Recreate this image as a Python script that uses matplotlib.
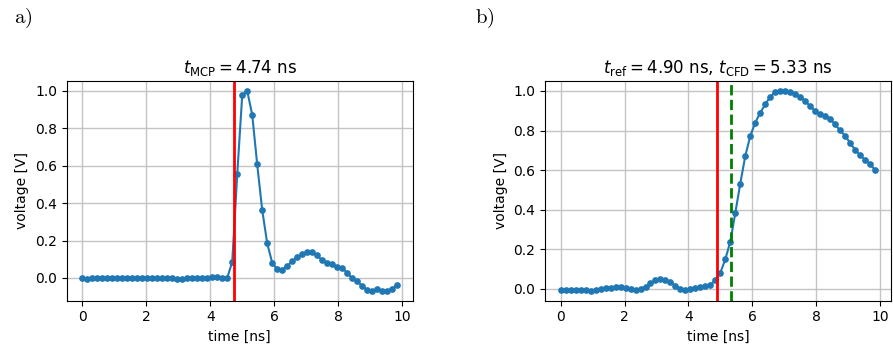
import numpy as np
import matplotlib.pyplot as plt

# sampling: 6.4 GS/s -> 0.15625 ns per sample, 64 samples
dt = 0.15625
n_samples = 64

v_mcp = [
    0.000, -0.005, 0.000, 0.000, 0.002, 0.000, 0.001, 0.000, 0.002, 0.000,
    0.000, -0.002, 0.000, 0.002, 0.000, -0.002, 0.000, 0.000, -0.002, -0.004,
    -0.005, 0.000, 0.000, 0.002, 0.002, 0.000, 0.003, 0.003, 0.002, 0.001,
    0.086, 0.554, 0.977, 1.000, 0.873, 0.607, 0.364, 0.186, 0.082, 0.046,
    0.045, 0.063, 0.089, 0.110, 0.129, 0.138, 0.138, 0.121, 0.095, 0.082,
    0.073, 0.059, 0.052, 0.029, -0.002, -0.018, -0.041, -0.064, -0.068, -0.061,
    -0.068, -0.068, -0.059, -0.036,
]

v_ref = [
    -0.007, -0.005, -0.005, -0.007, -0.007, -0.008, -0.010, -0.007, -0.002, 0.003,
    0.002, 0.008, 0.010, 0.005, -0.002, -0.005, 0.000, 0.010, 0.027, 0.042,
    0.049, 0.046, 0.034, 0.015, 0.000, -0.005, -0.002, 0.002, 0.007, 0.012,
    0.020, 0.042, 0.081, 0.149, 0.238, 0.383, 0.532, 0.671, 0.772, 0.840,
    0.890, 0.932, 0.971, 0.993, 1.000, 1.000, 0.993, 0.983, 0.971, 0.949,
    0.924, 0.899, 0.882, 0.873, 0.860, 0.831, 0.801, 0.774, 0.738, 0.703,
    0.676, 0.652, 0.630, 0.601,
]

t_mcp = 4.74
t_ref = 4.90
t_cfd = 5.33

t = np.arange(n_samples) * dt

fig = plt.figure(figsize=(8.93, 3.51), dpi=100)
ax1 = fig.add_axes([0.0747, 0.1433, 0.3875, 0.626])
ax2 = fig.add_axes([0.6103, 0.1433, 0.3871, 0.626])

ax1.plot(t, v_mcp, marker="o", markersize=3.8)
ax1.axvline(t_mcp, color="red", lw=2)
ax1.set_title(r"$t_{\mathrm{MCP}} = 4.74$ ns")

ax2.plot(t, v_ref, marker="o", markersize=3.8)
ax2.axvline(t_ref, color="red", lw=2)
ax2.axvline(t_cfd, color="green", lw=2, ls="--")
ax2.set_title(r"$t_{\mathrm{ref}} = 4.90$ ns, $t_{\mathrm{CFD}} = 5.33$ ns")

for ax in (ax1, ax2):
    ax.set_xlabel("time [ns]")
    ax.set_ylabel("voltage [V]")
    ax.set_xticks([0, 2, 4, 6, 8, 10])
    ax.grid(True, color="#c4c4c4", lw=1.0)

fig.text(0.016, 1 - 18 / 351, r"$\mathrm{a)}$", math_fontfamily="cm",
         fontsize=15, va="center")
fig.text(0.532, 1 - 18 / 351, r"$\mathrm{b)}$", math_fontfamily="cm",
         fontsize=15, va="center")

fig.savefig("out.png", dpi=100)
